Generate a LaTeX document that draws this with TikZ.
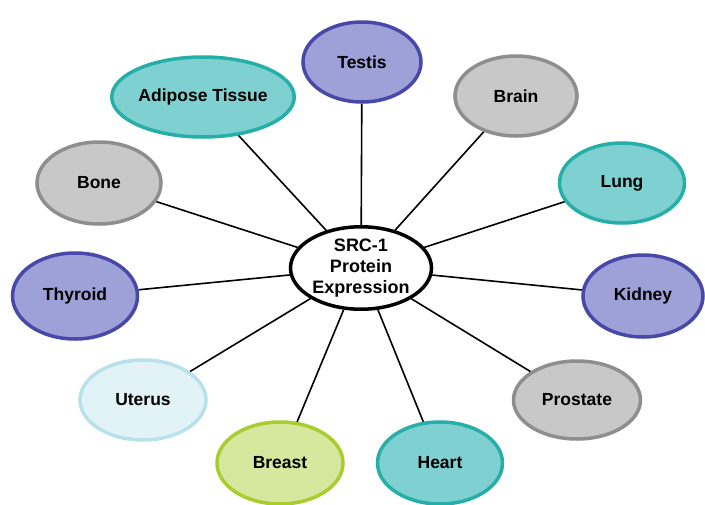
\documentclass[tikz,border=0pt]{standalone}
\usepackage{fontspec}
\setmainfont{Liberation Sans}
\usetikzlibrary{shapes.geometric}
\definecolor{purF}{HTML}{9EA0D8}
\definecolor{purD}{HTML}{4848A8}
\definecolor{teaF}{HTML}{7FD0D0}
\definecolor{teaD}{HTML}{26AEA8}
\definecolor{grF}{HTML}{C8C8C8}
\definecolor{grD}{HTML}{8E8E8E}
\definecolor{ltF}{HTML}{E2F3F7}
\definecolor{ltD}{HTML}{B9E1EA}
\definecolor{gnF}{HTML}{D5E89E}
\definecolor{gnD}{HTML}{A9CD2E}
\tikzset{
  tissue/.style={ellipse, line width=3.5pt, inner sep=0pt, font=\fontsize{17.5}{20}\selectfont\bfseries},
  purple/.style={tissue, draw=purD, fill=purF},
  teal/.style={tissue, draw=teaD, fill=teaF},
  gray/.style={tissue, draw=grD, fill=grF},
  light/.style={tissue, draw=ltD, fill=ltF},
  green/.style={tissue, draw=gnD, fill=gnF},
  conn/.style={line width=1.6pt, black},
}
\begin{document}
\begin{tikzpicture}[x=1pt,y=-1pt]
\useasboundingbox (0,0) rectangle (705,504);
\node[purple, minimum width=118pt, minimum height=80pt] (testis) at (362,62) {Testis};
\node[teal, minimum width=148pt, minimum height=80pt] (adipose) at (203,97) {Adipose Tissue};
\node[gray, minimum width=122pt, minimum height=80pt] (brain) at (516,96) {Brain};
\node[gray, minimum width=124pt, minimum height=82pt] (bone) at (99,183) {Bone};
\node[teal, minimum width=125pt, minimum height=80pt] (lung) at (622,183) {Lung};
\node[purple, minimum width=125pt, minimum height=86pt] (thyroid) at (75,296) {Thyroid};
\node[purple, minimum width=120pt, minimum height=82pt] (kidney) at (643,296) {Kidney};
\node[light, minimum width=126pt, minimum height=80pt] (uterus) at (143,400) {Uterus};
\node[gray, minimum width=127pt, minimum height=78pt] (prostate) at (577,400) {Prostate};
\node[green, minimum width=126pt, minimum height=82pt] (breast) at (280,463) {Breast};
\node[teal, minimum width=125pt, minimum height=82pt] (heart) at (440,463) {Heart};
\node[ellipse, draw=black, fill=white, line width=3.5pt, inner sep=0pt, minimum width=141pt, minimum height=76pt, align=center, font=\fontsize{18}{21}\selectfont\bfseries] (center) at (361,268) {SRC-1\\Protein\\Expression};
\foreach \t in {testis,adipose,brain,bone,lung,thyroid,kidney,uterus,prostate,breast,heart}{
  \draw[conn] (center) -- (\t);
}
\end{tikzpicture}
\end{document}
